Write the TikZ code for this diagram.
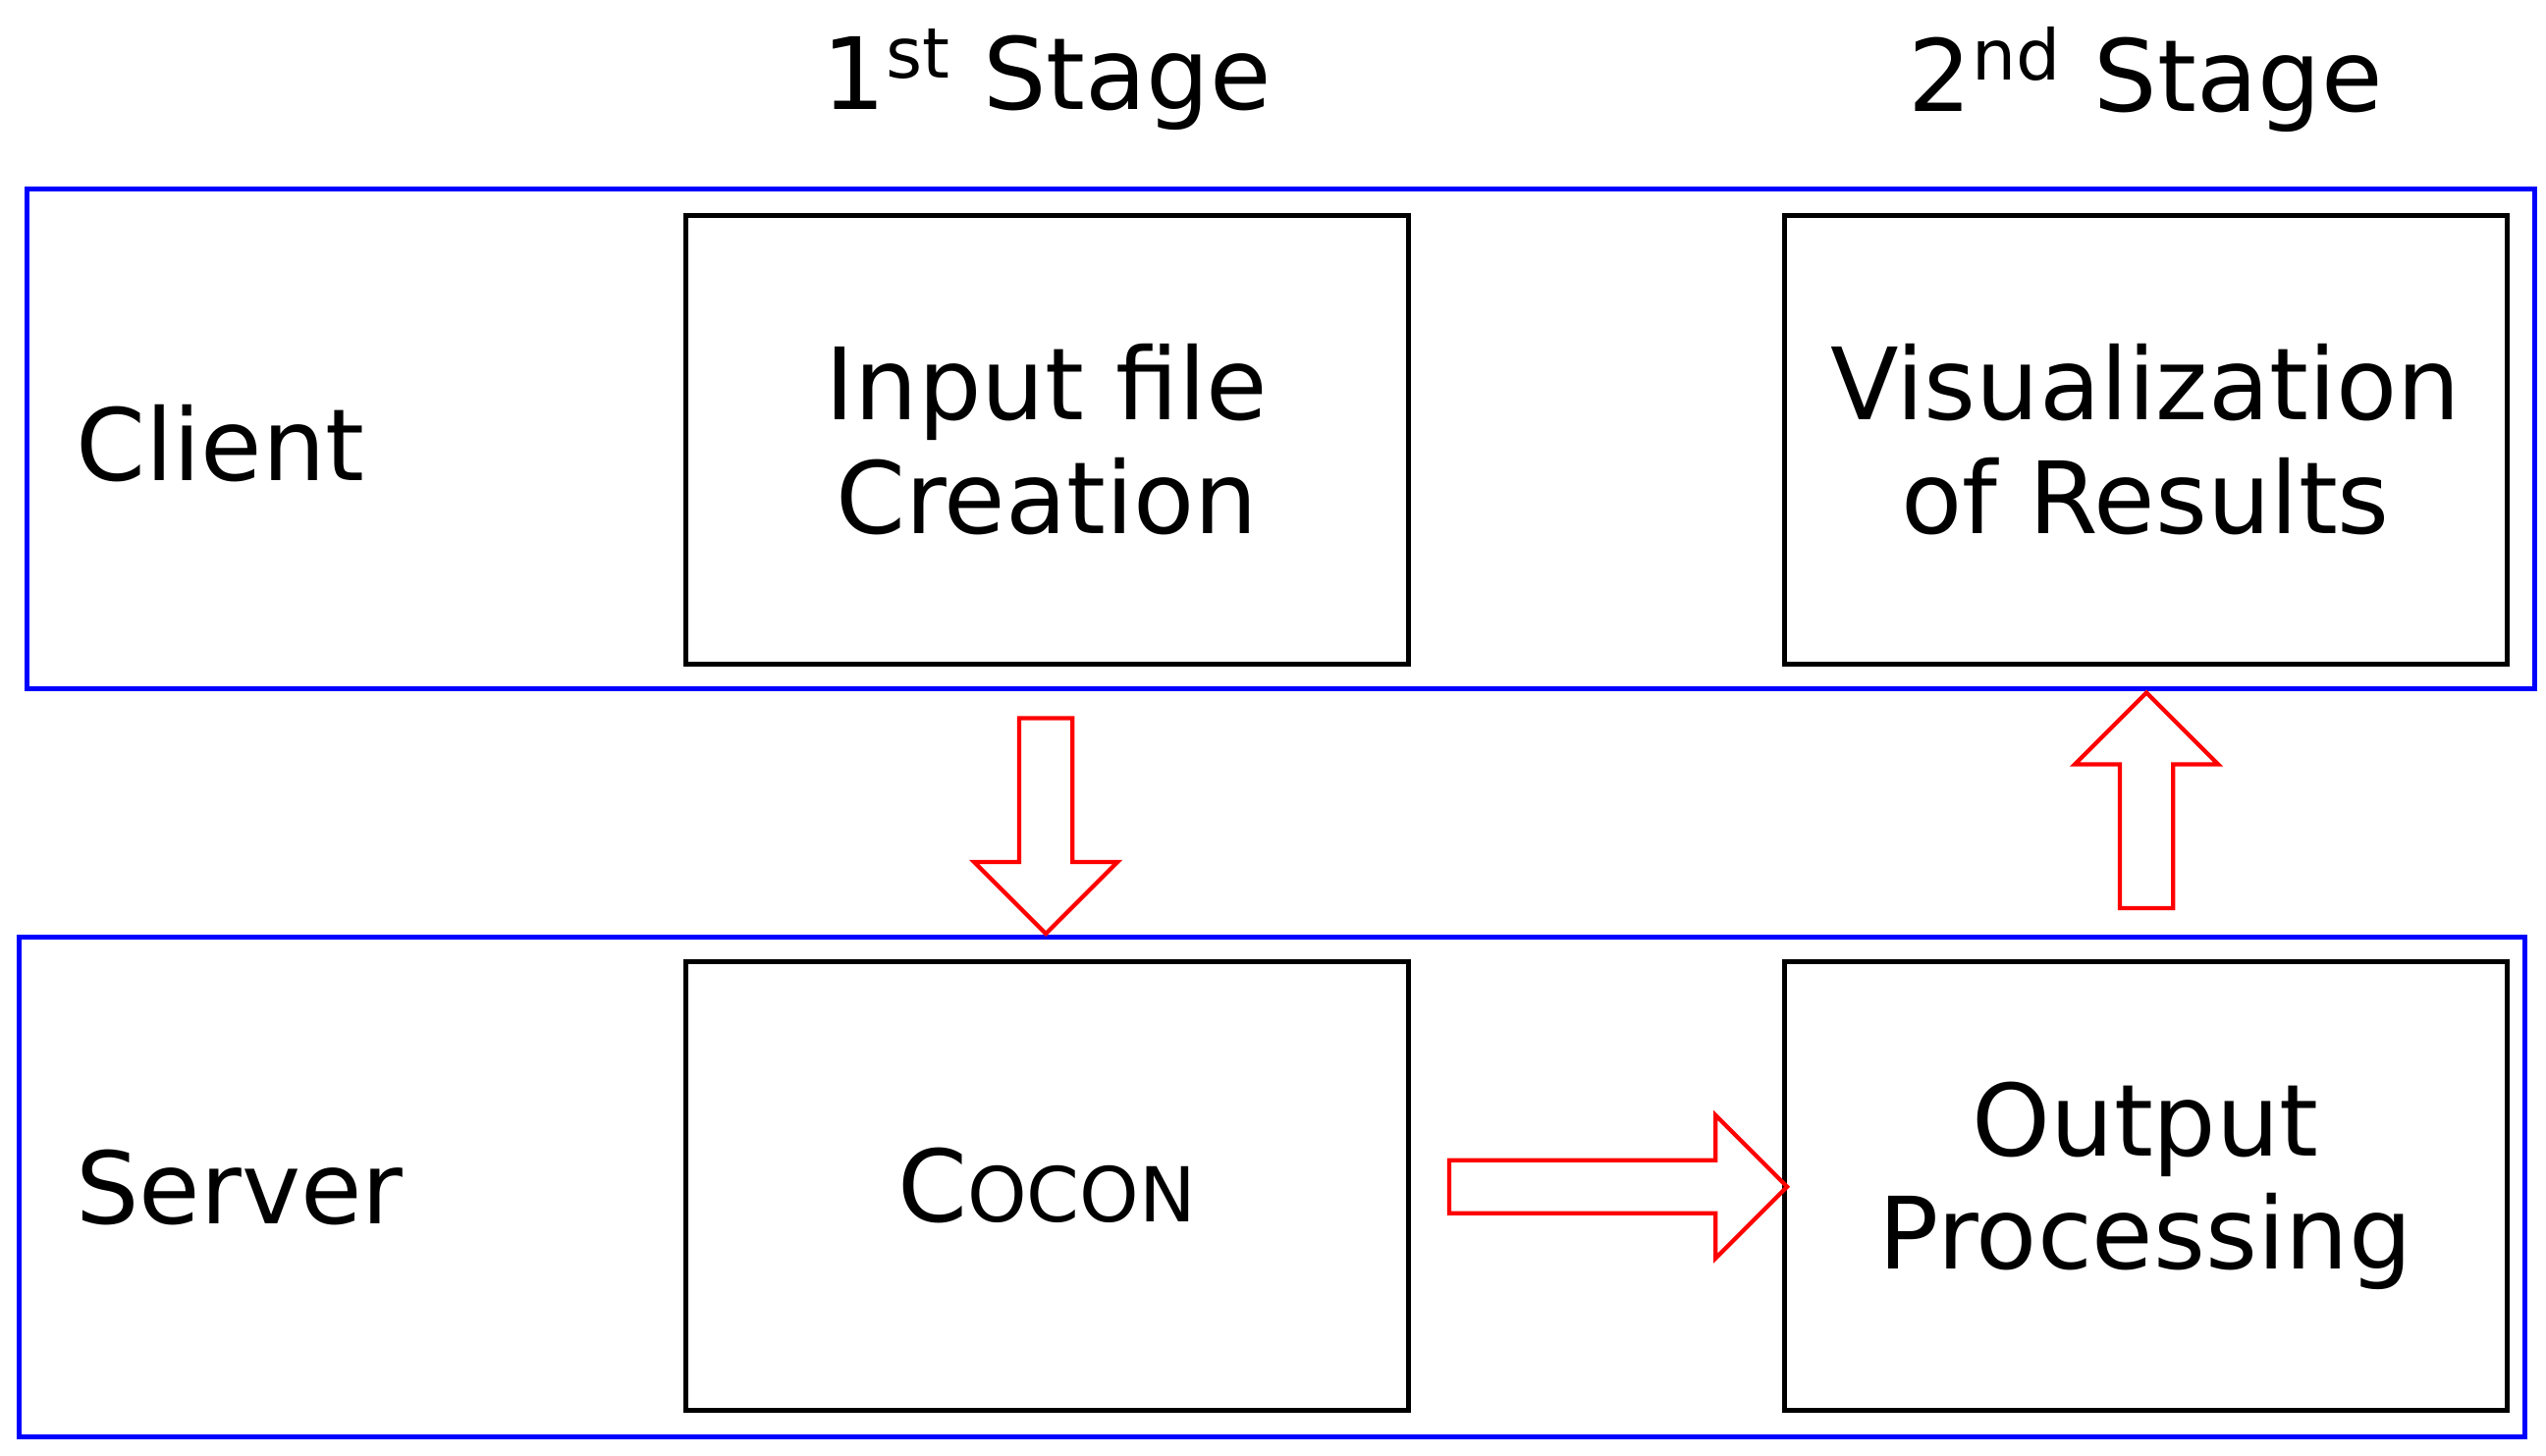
\documentclass[tikz,border=0pt]{standalone}
\usepackage{fontspec}
\setmainfont{DejaVu Sans}
\usetikzlibrary{positioning}
\usetikzlibrary{shapes.arrows}
\begin{document}
\begin{tikzpicture}
[
	layer/.style	= {draw = blue, line width = 1.4pt},
	stage/.style	= {draw = black, line width = 1.4pt, minimum width = 7.38cm, minimum height = 4.58cm, align = center, inner sep = 0cm, font = \fontsize{29}{33}\selectfont},
	flow/.style	= {single arrow, draw = red, line width = 1.2pt, minimum width = 1.42cm, single arrow head extend = 0.46cm, single arrow tip angle = 90, inner xsep = 0cm, inner ysep = 0.25cm},
	comment/.style	= {font = \fontsize{29}{33}\selectfont},
]

	\useasboundingbox (0,0) rectangle (26,14.86);

	\draw [layer] (0.28,12.93) rectangle (25.88,7.83);
	\draw [layer] (0.2,5.29) rectangle (25.78,0.19);
	%
	\node (input) [stage] at (10.69,10.37) {Input file\\Creation};
	\node (vis) [stage] at (21.91,10.37) {Visualization\\of Results};
	\node (cocon) [stage] at (10.69,2.75) {C{\fontsize{22}{26}\selectfont OCON}};
	\node (output) [stage] at (21.91,2.75) {Output\\Processing};
	%
	\node (client) [comment, anchor = west] at (0.65,10.33) {Client};
	\node (server) [comment, anchor = west] at (0.65,2.73) {Server};
	\node (first) [comment] at (10.69,14.05) {1\textsuperscript{st} Stage};
	\node (second) [comment] at (21.91,14.05) {2\textsuperscript{nd} Stage};

	\node (down) [flow, minimum height = 2.2cm, rotate = -90] at (10.68,6.56) {};
	\node (up) [flow, minimum height = 2.2cm, rotate = 90] at (21.92,6.55) {};
	\node (right) [flow, minimum height = 3.45cm] at (16.39,2.74) {};

\end{tikzpicture}
\end{document}
